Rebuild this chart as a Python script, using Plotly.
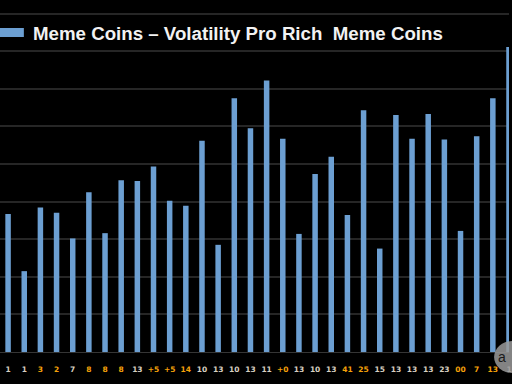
import plotly.graph_objects as go

categories = [f"c{i}" for i in range(32)]
tick_labels = ["1", "1", "3", "2", "7", "8", "8", "8", "13", "+5", "+5", "14",
               "10", "13", "10", "13", "11", "+0", "13", "10", "13", "41", "25", "15",
               "13", "13", "13", "23", "00", "7", "13", "1"]
label_is_orange = [0, 0, 1, 1, 0, 1, 1, 1, 0, 1, 1, 1,
                   0, 0, 0, 0, 0, 1, 0, 0, 0, 1, 1, 0,
                   0, 0, 0, 0, 1, 1, 1, 0]
values = [3.67, 2.15, 3.84, 3.70, 3.02, 4.25, 3.16, 4.57, 4.55, 4.93, 4.02, 3.89,
          5.62, 2.85, 6.75, 5.95, 7.22, 5.67, 3.14, 4.73, 5.19, 3.64, 6.43, 2.75,
          6.30, 5.67, 6.33, 5.65, 3.22, 5.74, 6.75, 8.11]

title_text = "Meme Coins \u2013 Volatility Pro Rich  Meme Coins"

ORANGE = "#f5a20a"
GRAY = "#d8d0c2"
ticktext = [f"<span style='color:{ORANGE if o else GRAY}'><b>{t}</b></span>"
            for t, o in zip(tick_labels, label_is_orange)]

fig = go.Figure()
fig.add_trace(go.Bar(x=categories, y=values, marker=dict(color="#6c9fd2", line=dict(width=0)),
                     showlegend=False))

W, H = 512, 384
PH = 352
fig.update_layout(
    width=W, height=H, autosize=False,
    margin=dict(l=0, r=0, t=0, b=H - PH),
    paper_bgcolor="black", plot_bgcolor="black",
    bargap=0.66,
    xaxis=dict(range=[-0.5, 31.0], tickmode="array", tickvals=categories, ticktext=ticktext,
               tickfont=dict(family="DejaVu Sans", size=7.5, color=GRAY),
               ticks="outside", ticklen=10, tickcolor="black",
               showgrid=False, showline=True, linecolor="#353535", linewidth=1, zeroline=False),
    yaxis=dict(range=[0, 9.36], dtick=1, showticklabels=False, showgrid=True,
               gridcolor="#262626", gridwidth=1.5, zeroline=False, showline=False),
    shapes=[
        dict(type="rect", xref="paper", yref="paper", x0=0, x1=24 / W,
             y0=(PH - 37) / PH, y1=(PH - 28) / PH, fillcolor="#6c9fd2", line=dict(width=0)),
        dict(type="circle", xref="paper", yref="paper", x0=497 / W, x1=533 / W,
             y0=(PH - 373) / PH, y1=(PH - 341) / PH, fillcolor="#9a9a9a",
             opacity=0.85, line=dict(width=0)),
    ],
    annotations=[
        dict(text=f"<b>{title_text}</b>", xref="paper", yref="paper", x=31 / W,
             y=(PH - 33) / PH, xanchor="left", yanchor="middle", showarrow=False,
             font=dict(family="Liberation Sans", size=18.7, color="#f2f2f2")),
        dict(text="a", xref="paper", yref="paper", x=511 / W, y=(PH - 357) / PH,
             xanchor="right", yanchor="middle", showarrow=False,
             font=dict(family="Liberation Sans", size=14, color="#1a1a1a")),
    ],
)

fig.write_html("out.html", config={"displayModeBar": False},
               post_script="document.body.style.margin='0';document.body.style.overflow='hidden';")
